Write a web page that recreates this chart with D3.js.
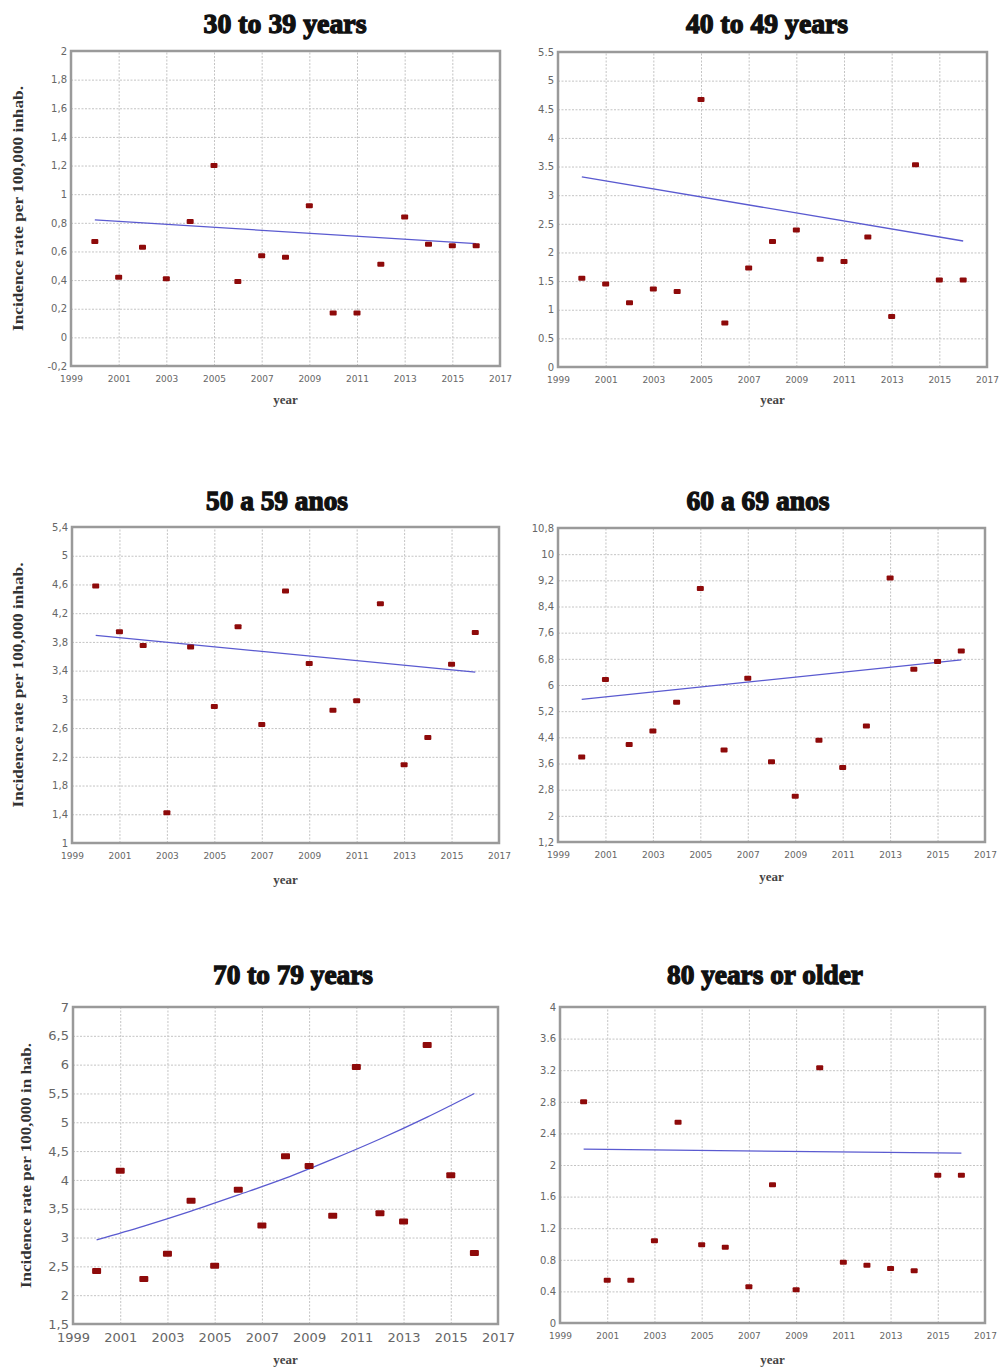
<!DOCTYPE html>
<html>
<head>
<meta charset="utf-8">
<script src="https://cdn.jsdelivr.net/npm/d3@7"></script>
<style>
  body { margin: 0; background: #fff; }
  svg { display: block; }
  .title { font-family: "Liberation Serif", "DejaVu Serif", serif; font-weight: bold; fill: #111; stroke: #111; stroke-width: 1.3px; }
  .ylab { font-family: "Liberation Serif", serif; font-weight: bold; fill: #333; }
  .xlab { font-family: "Liberation Serif", serif; font-weight: bold; fill: #444; }
  .tick text { font-family: "DejaVu Sans", sans-serif; fill: #666; }
  .grid line { stroke: #c4c4c4; stroke-dasharray: 2,1.5; }
  .grid path { display: none; }
</style>
</head>
<body>
<svg id="chart" width="999" height="1368"></svg>
<script>
// categories
const years = [2000, 2001, 2002, 2003, 2004, 2005, 2006, 2007, 2008, 2009, 2010, 2011, 2012, 2013, 2014, 2015, 2016];
const xTicks = [1999, 2001, 2003, 2005, 2007, 2009, 2011, 2013, 2015, 2017];

const titles = ["30 to 39 years", "40 to 49 years", "50 a 59 anos", "60 a 69 anos", "70 to 79 years", "80 years or older"];
const yLabels = ["Incidence rate per 100,000 inhab.", "", "Incidence rate per 100,000 inhab.", "", "Incidence rate per 100,000 in hab.", ""];

// incidence rates
const rate30 = [0.67, 0.42, 0.63, 0.41, 0.81, 1.20, 0.39, 0.57, 0.56, 0.92, 0.17, 0.17, 0.51, 0.84, 0.65, 0.64, 0.64];
const rate40 = [1.55, 1.45, 1.12, 1.36, 1.32, 4.67, 0.77, 1.73, 2.19, 2.39, 1.88, 1.84, 2.27, 0.88, 3.53, 1.52, 1.52];
const rate50 = [4.58, 3.94, 3.75, 1.42, 3.73, 2.90, 4.01, 2.65, 4.51, 3.50, 2.85, 2.98, 4.33, 2.09, 2.47, 3.49, 3.93];
const rate60 = [3.80, 6.17, 4.18, 4.59, 5.47, 8.95, 4.01, 6.21, 3.65, 2.60, 4.31, 3.48, 4.75, 9.27, 6.48, 6.72, 7.04];
const rate70 = [2.42, 4.16, 2.28, 2.72, 3.64, 2.51, 3.83, 3.21, 4.41, 4.24, 3.38, 5.96, 3.42, 3.28, 6.34, 4.08, 2.73];
const rate80 = [2.80, 0.54, 0.54, 1.04, 2.54, 0.99, 0.96, 0.46, 1.75, 0.42, 3.23, 0.77, 0.73, 0.69, 0.66, 1.87, 1.87];

// fitted trend, [year, value]
const trend30 = [[2000, 0.82], [2016, 0.655]];
const trend40 = [[2000, 3.32], [2016, 2.20]];
const trend50 = [[2000, 3.89], [2016, 3.38]];
const trend60 = [[2000, 5.56], [2016, 6.77]];
const trend70 = [[2000, 2.96], [2002, 3.20], [2004, 3.46], [2006, 3.74], [2008, 4.03], [2010, 4.36], [2012, 4.71], [2014, 5.09], [2016, 5.50]];
const trend80 = [[2000, 2.20], [2016, 2.15]];

// y tick labels
const yTicks30 = [-0.2, 0, 0.2, 0.4, 0.6, 0.8, 1, 1.2, 1.4, 1.6, 1.8, 2];
const yTicks40 = [0, 0.5, 1, 1.5, 2, 2.5, 3, 3.5, 4, 4.5, 5, 5.5];
const yTicks50 = [1, 1.4, 1.8, 2.2, 2.6, 3, 3.4, 3.8, 4.2, 4.6, 5, 5.4];
const yTicks60 = [1.2, 2, 2.8, 3.6, 4.4, 5.2, 6, 6.8, 7.6, 8.4, 9.2, 10, 10.8];
const yTicks70 = [1.5, 2, 2.5, 3, 3.5, 4, 4.5, 5, 5.5, 6, 6.5, 7];
const yTicks80 = [0, 0.4, 0.8, 1.2, 1.6, 2, 2.4, 2.8, 3.2, 3.6, 4];

const rates = [rate30, rate40, rate50, rate60, rate70, rate80];
const trends = [trend30, trend40, trend50, trend60, trend70, trend80];
const yTicks = [yTicks30, yTicks40, yTicks50, yTicks60, yTicks70, yTicks80];
const decComma = [true, false, true, true, true, false];

// layout of each panel (plot box)
const boxes = [
  {l: 71, t: 51, r: 500, b: 366, tx: 285, ty: 33, tw: 163, lx: 18, lw: 245, xy: 404, fs: 10, big: false},
  {l: 558, t: 52, r: 987, b: 367, tx: 767, ty: 33, tw: 162, lx: 0, lw: 0, xy: 404, fs: 10, big: false},
  {l: 72, t: 527, r: 499, b: 843, tx: 277, ty: 510, tw: 142, lx: 18, lw: 245, xy: 884, fs: 10, big: false},
  {l: 558, t: 528, r: 985, b: 842, tx: 758, ty: 510, tw: 143, lx: 0, lw: 0, xy: 881, fs: 10, big: false},
  {l: 73, t: 1007, r: 498, b: 1324, tx: 293, ty: 984, tw: 160, lx: 26, lw: 245, xy: 1364, fs: 13, big: true},
  {l: 560, t: 1007, r: 985, b: 1323, tx: 765, ty: 984, tw: 196, lx: 0, lw: 0, xy: 1364, fs: 10, big: false}
];

const svg = d3.select("#chart");

boxes.forEach(function(bx, i) {
  const w = bx.r - bx.l, h = bx.b - bx.t;
  const tk = yTicks[i];
  const x = d3.scaleLinear().domain([1999, 2017]).range([0, w]);
  const y = d3.scaleLinear().domain([tk[0], tk[tk.length - 1]]).range([h, 0]);
  const fmt = function(d) {
    let s = String(+d.toFixed(1));
    return decComma[i] ? s.replace(".", ",") : s;
  };

  const g = svg.append("g").attr("transform", "translate(" + bx.l + "," + bx.t + ")");

  g.append("rect").attr("width", w).attr("height", h).attr("fill", "#fff");

  // grid
  g.append("g").attr("class", "grid")
    .call(d3.axisLeft(y).tickValues(tk.slice(1, -1)).tickSize(-w).tickFormat(""));
  g.append("g").attr("class", "grid")
    .attr("transform", "translate(0," + h + ")")
    .call(d3.axisBottom(x).tickValues(xTicks.slice(1, -1)).tickSize(-h).tickFormat(""));

  // tick labels
  const ya = g.append("g")
    .call(d3.axisLeft(y).tickValues(tk).tickSize(0).tickPadding(4).tickFormat(fmt));
  ya.select(".domain").remove();
  ya.selectAll("text").style("font-size", bx.fs + "px");

  const xa = g.append("g")
    .attr("transform", "translate(0," + h + ")")
    .call(d3.axisBottom(x).tickValues(xTicks).tickSize(0).tickPadding(bx.big ? 9 : 10).tickFormat(d3.format("d")));
  xa.select(".domain").remove();
  xa.selectAll("text").style("font-size", (bx.big ? 13 : 9) + "px");

  // frame
  g.append("rect").attr("width", w).attr("height", h)
    .attr("fill", "none").attr("stroke", "#9a9a9a").attr("stroke-width", 2.5);

  // trend
  g.append("path")
    .datum(trends[i])
    .attr("fill", "none")
    .attr("stroke", "#5a5ad0")
    .attr("stroke-width", 1.3)
    .attr("d", d3.line().curve(d3.curveMonotoneX)
      .x(function(d) { return x(d[0]); })
      .y(function(d) { return y(d[1]); }));

  // points
  const pw = bx.big ? 9 : 7, ph = bx.big ? 6 : 5;
  g.selectAll(".pt")
    .data(rates[i])
    .enter().append("rect")
      .attr("class", "pt")
      .attr("x", function(d, j) { return x(years[j]) - pw / 2; })
      .attr("y", function(d) { return y(d) - ph / 2; })
      .attr("width", pw)
      .attr("height", ph)
      .attr("rx", 1)
      .attr("fill", "#8e0a0a");

  // titles and labels
  svg.append("text").attr("class", "title")
    .attr("x", bx.tx).attr("y", bx.ty)
    .attr("text-anchor", "middle")
    .attr("textLength", bx.tw).attr("lengthAdjust", "spacingAndGlyphs")
    .style("font-size", "27px")
    .text(titles[i]);

  if (yLabels[i]) {
    const cy = bx.t + h / 2;
    svg.append("text").attr("class", "ylab")
      .attr("transform", "translate(" + bx.lx + "," + cy + ") rotate(-90)")
      .attr("text-anchor", "middle")
      .attr("dy", "0.35em")
      .attr("textLength", bx.lw).attr("lengthAdjust", "spacingAndGlyphs")
      .style("font-size", "15px")
      .text(yLabels[i]);
  }

  svg.append("text").attr("class", "xlab")
    .attr("x", bx.l + w / 2).attr("y", bx.xy)
    .attr("text-anchor", "middle")
    .style("font-size", "13px")
    .text("year");
});
</script>
</body>
</html>
